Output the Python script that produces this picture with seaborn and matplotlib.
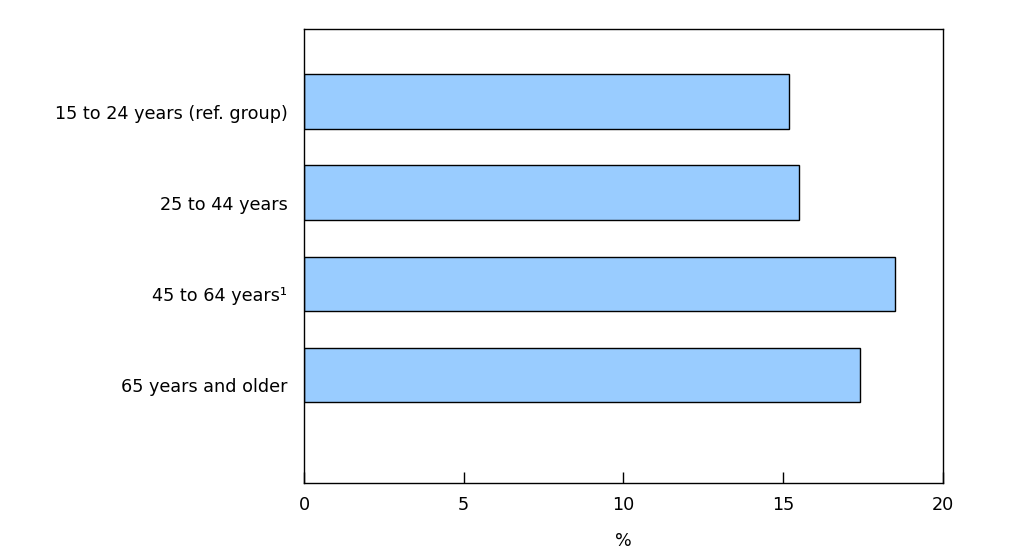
import pandas as pd
import seaborn as sns
import matplotlib.pyplot as plt
from matplotlib.transforms import ScaledTranslation

# Data
groups = ["15 to 24 years (ref. group)", "25 to 44 years",
          "45 to 64 years\u00b9", "65 years and older"]
values = [15.2, 15.5, 18.5, 17.4]

df = pd.DataFrame({"group": groups, "pct": values})

sns.set_theme(style="white")
plt.rcParams['font.family'] = ['DejaVu Sans']
plt.rcParams['text.color'] = 'black'
plt.rcParams['xtick.color'] = 'black'
plt.rcParams['ytick.color'] = 'black'
plt.rcParams['axes.labelcolor'] = 'black'

fig = plt.figure(figsize=(10.1, 5.6), dpi=100)
ax = fig.add_axes([0.301, 0.1375, 0.6324, 0.8102])

sns.barplot(data=df, x="pct", y="group", orient="h", color="#99CCFF",
            saturation=1, width=0.6, edgecolor="black", linewidth=1, ax=ax)

ax.set_xlim(0, 20)
ax.set_ylim(4.185, -0.795)
ax.set_xticks([0, 5, 10, 15, 20])
ax.set_xlabel("%", fontsize=12.7, labelpad=13)
ax.set_ylabel("")
ax.tick_params(axis="x", bottom=True, direction="in", length=8, width=1,
               color="black", labelsize=12.7, pad=9)
ax.tick_params(axis="y", left=False, length=0, labelsize=12.7, pad=12)
# category labels sit a little below the bar centres
shift = ScaledTranslation(0, -0.1, fig.dpi_scale_trans)
for lbl in ax.get_yticklabels():
    lbl.set_transform(lbl.get_transform() + shift)
for s in ax.spines.values():
    s.set_color("black")
    s.set_linewidth(1)

plt.savefig("out.png", dpi=100)
plt.close()
